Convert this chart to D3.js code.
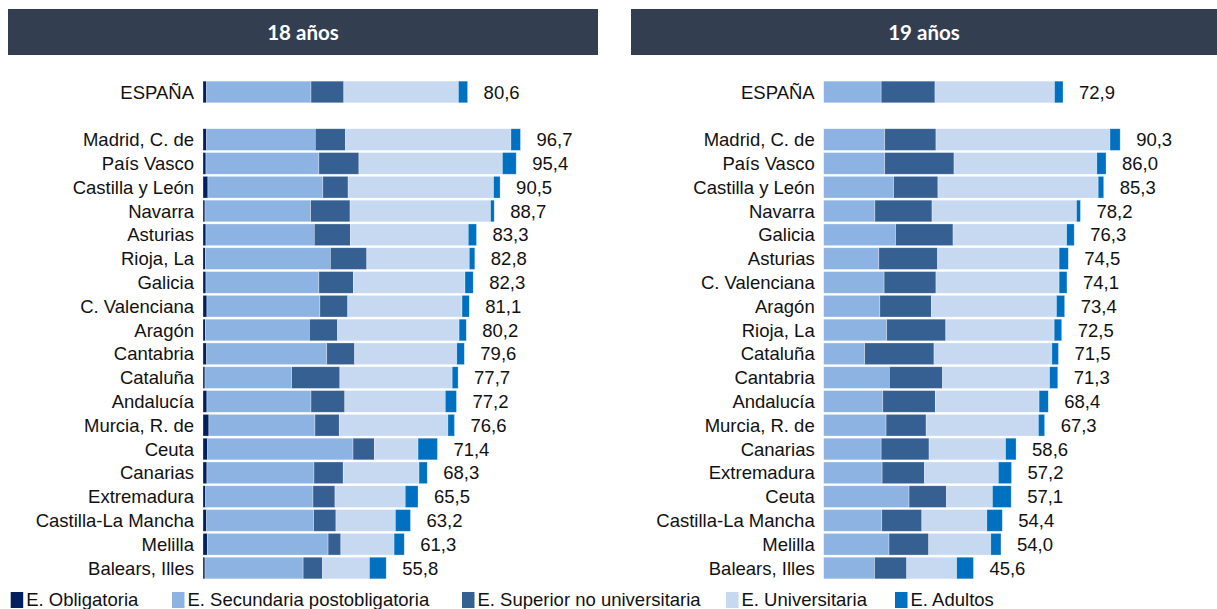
<!DOCTYPE html>
<meta charset="utf-8">
<style>
body { margin: 0; background: #fff; }
text { font-family: "Liberation Sans", Arimo, Arial, sans-serif; }
.cat { font-size: 18.5px; fill: #111; }
.val { font-size: 18.5px; fill: #111; }
.head { font-family: Lato, "Open Sans", sans-serif; font-weight: 700; font-size: 20.5px; fill: #fff; }
.leg { font-size: 18.5px; fill: #111; }
</style>
<body>
<script src="https://d3js.org/d3.v7.min.js"></script>
<script>

// 18 años
var cats18 = ["ESPAÑA", "", "Madrid, C. de", "País Vasco", "Castilla y León", "Navarra", "Asturias",
    "Rioja, La", "Galicia", "C. Valenciana", "Aragón", "Cantabria", "Cataluña", "Andalucía",
    "Murcia, R. de", "Ceuta", "Canarias", "Extremadura", "Castilla-La Mancha", "Melilla", "Balears, Illes"];
var obl18 = [1.1, null, 1.1, 0.9, 1.5, 0.6, 0.9, 0.7, 0.9, 1.2, 0.7, 1.1, 0.6, 1.2, 1.8, 1.4, 1.2, 0.8, 1.1, 1.3, 0.6];
var sec18 = [31.8, null, 33.1, 34.4, 35.0, 32.2, 33.0, 38.1, 34.4, 34.4, 31.7, 36.6, 26.4, 31.7, 32.3, 44.3, 32.6, 32.7, 32.6, 36.8, 29.9];
var sup18 = [10.0, null, 9.2, 12.2, 7.7, 12.0, 11.0, 11.1, 10.5, 8.5, 8.6, 8.5, 14.7, 10.3, 7.4, 6.5, 8.9, 6.7, 6.8, 3.9, 5.9];
var uni18 = [34.9, null, 50.4, 43.7, 44.3, 42.8, 35.9, 31.2, 34.0, 34.8, 37.0, 31.1, 34.2, 30.6, 33.1, 13.3, 23.1, 21.4, 18.1, 16.2, 14.3];
var adu18 = [2.8, null, 2.9, 4.2, 2.0, 1.1, 2.5, 1.7, 2.5, 2.2, 2.2, 2.3, 1.8, 3.4, 2.0, 5.9, 2.5, 3.9, 4.6, 3.1, 5.1];
var tot18 = [80.6, null, 96.7, 95.4, 90.5, 88.7, 83.3, 82.8, 82.3, 81.1, 80.2, 79.6, 77.7, 77.2, 76.6, 71.4, 68.3, 65.5, 63.2, 61.3, 55.8];

// 19 años
var cats19 = ["ESPAÑA", "", "Madrid, C. de", "País Vasco", "Castilla y León", "Navarra", "Galicia",
    "Asturias", "C. Valenciana", "Aragón", "Rioja, La", "Cataluña", "Cantabria", "Andalucía",
    "Murcia, R. de", "Canarias", "Extremadura", "Ceuta", "Castilla-La Mancha", "Melilla", "Balears, Illes"];
var obl19 = [0, null, 0, 0, 0, 0, 0, 0, 0, 0, 0, 0, 0, 0, 0, 0, 0, 0, 0, 0, 0];
var sec19 = [17.5, null, 18.6, 18.6, 21.3, 15.6, 21.9, 16.8, 18.4, 17.1, 19.2, 12.5, 20.0, 18.0, 19.0, 17.5, 17.8, 26.0, 17.7, 19.9, 15.5];
var sup19 = [16.4, null, 15.6, 21.1, 13.5, 17.4, 17.5, 17.9, 15.8, 15.7, 18.0, 21.1, 16.2, 16.0, 12.2, 14.6, 12.9, 11.4, 12.2, 12.1, 9.8];
var uni19 = [36.4, null, 53.0, 43.5, 48.8, 44.0, 34.6, 37.0, 37.5, 38.1, 33.0, 35.9, 32.6, 31.6, 34.2, 23.3, 22.5, 14.0, 19.8, 18.9, 15.2];
var adu19 = [2.6, null, 3.1, 2.8, 1.7, 1.2, 2.3, 2.8, 2.4, 2.5, 2.3, 2.0, 2.5, 2.8, 1.9, 3.2, 4.0, 5.7, 4.7, 3.1, 5.1];
var tot19 = [72.9, null, 90.3, 86.0, 85.3, 78.2, 76.3, 74.5, 74.1, 73.4, 72.5, 71.5, 71.3, 68.4, 67.3, 58.6, 57.2, 57.1, 54.4, 54.0, 45.6];

var seriesNames = ["E. Obligatoria", "E. Secundaria postobligatoria", "E. Superior no universitaria",
    "E. Universitaria", "E. Adultos"];
var colors = ["#002060", "#8db3e2", "#366092", "#c6d9f1", "#0070c0"];

var width = 1217, height = 609;

var svg = d3.select("body").append("svg")
    .attr("width", width)
    .attr("height", height);

// shared row scale
var y = d3.scaleBand()
    .domain(d3.range(21))
    .range([79, 581])
    .padding(0.09);

var fmt = function (v) { return v.toFixed(1).replace(".", ","); };

function drawPanel(opt) {
    var g = svg.append("g");

    // header
    g.append("rect")
        .attr("x", opt.hx).attr("y", 9)
        .attr("width", opt.hw).attr("height", 46)
        .attr("fill", "#333f50");
    g.append("text")
        .attr("class", "head")
        .attr("x", opt.hx + opt.hw / 2).attr("y", 32)
        .attr("text-anchor", "middle")
        .attr("dominant-baseline", "central")
        .text(opt.title);

    var x = d3.scaleLinear().domain([0, 100]).range([opt.x0, opt.x0 + 328.3]);

    var rows = opt.cats.map(function (c, i) {
        return {cat: c, i: i, vals: [opt.obl[i], opt.sec[i], opt.sup[i], opt.uni[i], opt.adu[i]], tot: opt.tot[i]};
    }).filter(function (d) { return d.cat !== ""; });

    var keys = [0, 1, 2, 3, 4];
    var stack = d3.stack()
        .keys(keys)
        .value(function (d, k) { return d.vals[k]; });
    var layers = stack(rows);

    g.selectAll(".layer")
        .data(layers)
        .enter().append("g")
        .attr("fill", function (d) { return colors[d.key]; })
        .selectAll("rect")
        .data(function (d) { return d; })
        .enter().append("rect")
        .attr("x", function (d) { return x(d[0]); })
        .attr("y", function (d) { return y(d.data.i); })
        .attr("width", function (d) { return Math.max(0, x(d[1]) - x(d[0])); })
        .attr("height", y.bandwidth())
        .attr("stroke", "#ffffff")
        .attr("stroke-opacity", 0.5)
        .attr("stroke-width", 0.6);

    // category labels
    g.selectAll(".cat")
        .data(rows)
        .enter().append("text")
        .attr("class", "cat")
        .attr("x", opt.x0 - 9)
        .attr("y", function (d) { return y(d.i) + y.bandwidth() / 2; })
        .attr("dy", "0.36em")
        .attr("text-anchor", "end")
        .text(function (d) { return d.cat; });

    // totals
    g.selectAll(".val")
        .data(rows)
        .enter().append("text")
        .attr("class", "val")
        .attr("x", function (d) { return x(d3.sum(d.vals)) + 16; })
        .attr("y", function (d) { return y(d.i) + y.bandwidth() / 2; })
        .attr("dy", "0.36em")
        .text(function (d) { return fmt(d.tot); });
}

drawPanel({title: "18 años", hx: 8, hw: 590, x0: 203, cats: cats18,
    obl: obl18, sec: sec18, sup: sup18, uni: uni18, adu: adu18, tot: tot18});
drawPanel({title: "19 años", hx: 631, hw: 586, x0: 823.7, cats: cats19,
    obl: obl19, sec: sec19, sup: sup19, uni: uni19, adu: adu19, tot: tot19});

// legend
var legX = [10.7, 172, 462, 726, 895];
var leg = svg.append("g").selectAll("g")
    .data(seriesNames)
    .enter().append("g")
    .attr("transform", function (d, i) { return "translate(" + legX[i] + ",592)"; });
leg.append("rect")
    .attr("width", 12.5).attr("height", 16)
    .attr("fill", function (d, i) { return colors[i]; });
leg.append("text")
    .attr("class", "leg")
    .attr("x", 15.5).attr("y", 14)
    .text(function (d) { return d; });

</script>
</body>
